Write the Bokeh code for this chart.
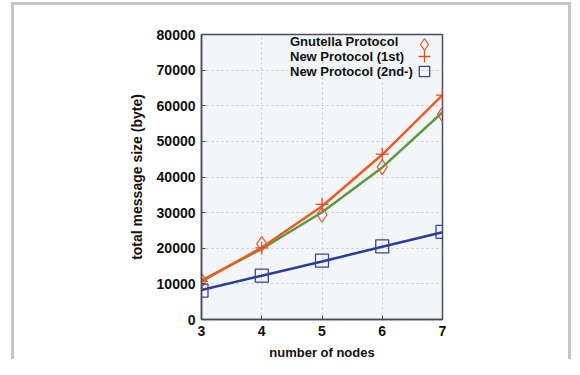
from bokeh.plotting import figure
from bokeh.models import FixedTicker, Legend, LegendItem, Range1d
from bokeh.embed import file_html
from bokeh.resources import INLINE

# ---- data ----
nodes = [3, 4, 5, 6, 7]
gnutella = [10900, 21200, 29400, 42800, 57600]
gnutella_fit = [11000, 19800, 30100, 42700, 58200]
new_1st = [10700, 20100, 32300, 46400, 63000]
new_1st_fit = [10700, 20200, 31800, 46300, 63000]
new_2nd = [8100, 12300, 16500, 20500, 24600]
new_2nd_fit = [8300, 12300, 16300, 20400, 24500]
x_ticks = [3, 4, 5, 6, 7]
y_ticks = [0, 10000, 20000, 30000, 40000, 50000, 60000, 70000, 80000]
labels = ["Gnutella Protocol", "New Protocol (1st)", "New Protocol (2nd-)"]

FONT = "Liberation Sans"

p = figure(width=560, height=357, output_backend="svg", toolbar_location=None,
           x_range=Range1d(3, 7), y_range=Range1d(0, 80000),
           min_border_left=187, min_border_right=132,
           min_border_top=29, min_border_bottom=41)
p.styles = {"border-left": "3px solid #c6c6c6", "border-right": "3px solid #c6c6c6",
            "border-top": "3px solid #c6c6c6", "margin-left": "11px", "margin-top": "2px"}

p.background_fill_color = "#f3f6f9"
p.border_fill_color = "white"
p.outline_line_color = "#4a4a5c"
p.outline_line_width = 1.5

for ax in (p.xaxis[0], p.yaxis[0]):
    ax.axis_line_color = "#4a4a5c"
    ax.axis_line_width = 1.5
    ax.major_tick_in = 4
    ax.major_tick_out = 0
    ax.minor_tick_line_color = None
    ax.major_tick_line_color = "#4a4a5c"
    ax.major_label_text_font = FONT
    ax.major_label_text_font_size = "14px"
    ax.major_label_text_font_style = "bold"
    ax.major_label_text_color = "#111111"
    ax.axis_label_text_font = FONT
    ax.axis_label_text_font_size = "13px"
    ax.axis_label_text_font_style = "bold"
    ax.axis_label_text_color = "#111111"

p.xaxis[0].ticker = FixedTicker(ticks=x_ticks)
p.yaxis[0].ticker = FixedTicker(ticks=y_ticks)
p.xaxis[0].axis_label = "number of nodes"
p.yaxis[0].axis_label = "total message size (byte)"
p.yaxis[0].axis_label_text_font_size = "14px"
p.xaxis[0].major_label_standoff = 6
p.xaxis[0].axis_label_standoff = 6
p.yaxis[0].major_label_standoff = 6
p.yaxis[0].axis_label_standoff = 9

p.xgrid.ticker = FixedTicker(ticks=x_ticks)
p.ygrid.ticker = FixedTicker(ticks=y_ticks)
p.grid.grid_line_color = "#c9c9b8"
p.grid.grid_line_dash = "2 3"
p.grid.grid_line_width = 1

# lines
p.line(nodes, gnutella_fit, line_color="#5a9a3c", line_width=2.5)
p.line(nodes, new_2nd_fit, line_color="#2b3c9c", line_width=2.5)
p.line(nodes, new_1st_fit, line_color="#f05a1e", line_width=2.5)

# markers
r_g = p.scatter(nodes, gnutella, marker="diamond", size=15, fill_color=None,
                line_color="#e8603c", line_width=1.3)
r_n1 = p.scatter(nodes, new_1st, marker="cross", size=13, line_color="#d8502a", line_width=1.3)
r_n2 = p.scatter(nodes, new_2nd, marker="square", size=13, fill_color=None,
                 line_color="#3a4496", line_width=1.3)

# legend: text part (glyph-less) and glyph part on the right
dummy = p.scatter([], [], marker="circle", size=1, fill_alpha=0, line_alpha=0)
text_leg = Legend(items=[LegendItem(label=l, renderers=[dummy]) for l in labels],
                  location=(88, 240), glyph_width=1, glyph_height=13, label_height=13,
                  label_standoff=0, spacing=0, padding=0, margin=0,
                  background_fill_alpha=0, border_line_color=None,
                  label_text_font=FONT, label_text_font_size="13px",
                  label_text_font_style="bold", label_text_color="#111111")
p.add_layout(text_leg, "center")

for r, g, loc in ((r_g, 30, (208, 260)), (r_n1, 30, (208, 248)), (r_n2, 26, (210, 235))):
    leg = Legend(items=[LegendItem(label=" ", renderers=[r])],
                 location=loc, glyph_width=g, glyph_height=g, label_height=g,
                 label_standoff=0, spacing=0, padding=0, margin=0,
                 background_fill_alpha=0, border_line_color=None,
                 label_text_font_size="8px")
    p.add_layout(leg, "center")

open("out.html", "w").write(file_html(p, INLINE))
